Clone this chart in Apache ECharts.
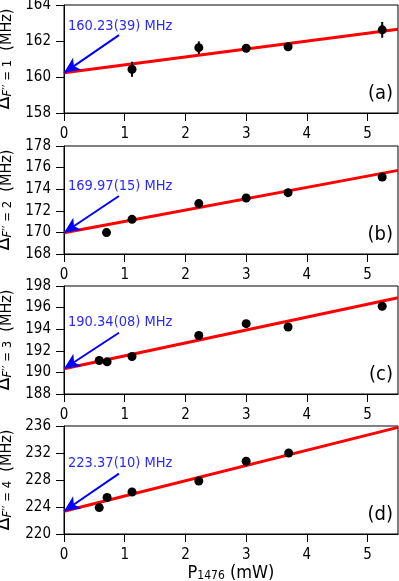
<!DOCTYPE html>
<html>
<head>
<meta charset="utf-8">
<script src="https://cdn.jsdelivr.net/npm/echarts@6/dist/echarts.min.js"></script>
<style>
  html, body { margin: 0; padding: 0; background: #fff; }
  #chart { width: 399px; height: 581px; }
</style>
</head>
<body>
<div id="chart"></div>
<script>
// Measured points, one pair of arrays per panel
const powerA = [1.12, 2.22, 3.0, 3.69, 5.24];
const shiftA = [160.43, 161.63, 161.6, 161.68, 162.62];
const errA = [0.42, 0.35, 0.15, 0.2, 0.44];

const powerB = [0.7, 1.12, 2.22, 3.0, 3.69, 5.24];
const shiftB = [169.98, 171.21, 172.67, 173.19, 173.68, 175.13];

const powerC = [0.58, 0.71, 1.12, 2.22, 3.0, 3.69, 5.24];
const shiftC = [191.1, 190.98, 191.47, 193.42, 194.51, 194.2, 196.12];

const powerD = [0.58, 0.71, 1.12, 2.22, 3.0, 3.7];
const shiftD = [223.91, 225.4, 226.22, 227.85, 230.77, 232.0];

// Linear fits (intercept, its uncertainty digits, slope)
const intercepts = [160.23, 169.97, 190.34, 223.37];
const interceptErr = ["39", "15", "08", "10"];
const slopes = [0.44, 1.05, 1.196, 2.26];

// Where each arrow starts (data coords)
const arrowFromX = [0.905, 0.905, 0.905, 0.905];
const arrowFromY = [162.33, 173.37, 193.67, 228.95];

// Axes
const xMax = 5.5;
const xTicks = [0, 1, 2, 3, 4, 5];
const yMin = [158, 168, 188, 220];
const yMax = [164, 178, 198, 236];
const yStep = [2, 2, 2, 4];
const levels = [1, 2, 3, 4];
const panelNames = ["(a)", "(b)", "(c)", "(d)"];

const powers = [powerA, powerB, powerC, powerD];
const shifts = [shiftA, shiftB, shiftC, shiftD];

// Layout
const FONT = "DejaVu Sans Condensed, DejaVu Sans";
const gridTops = [5, 146, 286, 426];
const gridH = 108;
const noteOffsets = [21, 40, 36, 37];

const chart = echarts.init(document.getElementById("chart"));

const grids = [];
const xAxes = [];
const yAxes = [];
const series = [];
const graphics = [];

gridTops.forEach((top, i) => {
  grids.push({
    left: 64,
    right: 1,
    top: top,
    height: gridH,
    outerBoundsMode: "none",
    containLabel: false,
    show: true,
    borderColor: "#000",
    borderWidth: 1,
  });

  xAxes.push({
    type: "value",
    gridIndex: i,
    min: 0,
    max: xMax,
    axisLine: { show: true, onZero: false, lineStyle: { color: "#000", width: 1 } },
    axisTick: { show: true, inside: false, length: 8, customValues: xTicks, lineStyle: { color: "#000" } },
    axisLabel: { customValues: xTicks, color: "#000", fontSize: 15, fontFamily: FONT, margin: 14 },
    splitLine: { show: false },
    name: i === 3 ? "{n|P}{s|1476}{n| (mW)}" : "",
    nameLocation: "middle",
    nameGap: 23,
    nameTextStyle: {
      rich: {
        n: { fontSize: 18, fontFamily: FONT, color: "#000", lineHeight: 22, verticalAlign: "bottom" },
        s: { fontSize: 12, fontFamily: FONT, color: "#000", lineHeight: 16, verticalAlign: "bottom" },
      },
    },
  });

  yAxes.push({
    type: "value",
    gridIndex: i,
    min: yMin[i],
    max: yMax[i],
    interval: yStep[i],
    axisLine: { show: true, lineStyle: { color: "#000", width: 1 } },
    axisTick: { show: true, inside: false, length: 8, lineStyle: { color: "#000" } },
    axisLabel: { color: "#000", fontSize: 15, fontFamily: FONT, margin: 13 },
    splitLine: { show: false },
    name: `{d|Δ}{si|F}{s|′′ = ${levels[i]}}{n|  (MHz)}`,
    nameLocation: "middle",
    nameRotate: 90,
    nameGap: 45,
    nameTextStyle: {
      rich: {
        d: { fontSize: 21, fontFamily: FONT, color: "#000", lineHeight: 24, verticalAlign: "bottom" },
        n: { fontSize: 16, fontFamily: FONT, color: "#000", lineHeight: 24, verticalAlign: "bottom" },
        si: { fontSize: 13, fontFamily: FONT, fontStyle: "italic", color: "#000", lineHeight: 16, verticalAlign: "bottom" },
        s: { fontSize: 13, fontFamily: FONT, color: "#000", lineHeight: 16, verticalAlign: "bottom" },
      },
    },
  });

  // Fit line with the arrow pointing at the intercept
  series.push({
    type: "line",
    xAxisIndex: i,
    yAxisIndex: i,
    data: [
      [0, intercepts[i]],
      [xMax, intercepts[i] + slopes[i] * xMax],
    ],
    showSymbol: false,
    symbol: "none",
    lineStyle: { color: "#ff0000", width: 3 },
    z: 2,
    silent: true,
    markLine: {
      silent: true,
      symbol: ["none", "arrow"],
      symbolSize: [11, 16],
      label: { show: false },
      lineStyle: { color: "#0000ff", width: 2, type: "solid", opacity: 1 },
      data: [
        [
          { coord: [arrowFromX[i], arrowFromY[i]] },
          { coord: [0, intercepts[i]] },
        ],
      ],
      z: 4,
    },
  });

  // Measured points
  series.push({
    type: "scatter",
    xAxisIndex: i,
    yAxisIndex: i,
    data: powers[i].map((p, k) => [p, shifts[i][k]]),
    symbolSize: 9,
    itemStyle: { color: "#000", opacity: 1 },
    z: 3,
  });

  // Intercept note and panel letter
  graphics.push({
    type: "text",
    left: 68,
    top: top + noteOffsets[i] - 7,
    style: {
      text: `${intercepts[i].toFixed(2)}(${interceptErr[i]}) MHz`,
      fill: "#2a2aff",
      font: `14.5px "DejaVu Sans Condensed", "DejaVu Sans"`,
    },
  });
  graphics.push({
    type: "text",
    right: 6,
    top: top + gridH - 29,
    style: {
      text: panelNames[i],
      fill: "#000",
      font: `20px "DejaVu Sans Condensed", "DejaVu Sans"`,
    },
  });
});

// Error bars for panel (a)
series.push({
  type: "custom",
  xAxisIndex: 0,
  yAxisIndex: 0,
  data: powerA.map((p, k) => [p, shiftA[k], errA[k]]),
  encode: { x: 0, y: 1 },
  z: 3,
  renderItem: (params, api) => {
    const x = api.value(0);
    const y = api.value(1);
    const e = api.value(2);
    const hi = api.coord([x, y + e]);
    const lo = api.coord([x, y - e]);
    return {
      type: "line",
      shape: { x1: hi[0], y1: hi[1], x2: lo[0], y2: lo[1] },
      style: { stroke: "#000", lineWidth: 2 },
    };
  },
});

chart.setOption({
  animation: false,
  backgroundColor: "#fff",
  grid: grids,
  xAxis: xAxes,
  yAxis: yAxes,
  series: series,
  graphic: graphics,
});
</script>
</body>
</html>
